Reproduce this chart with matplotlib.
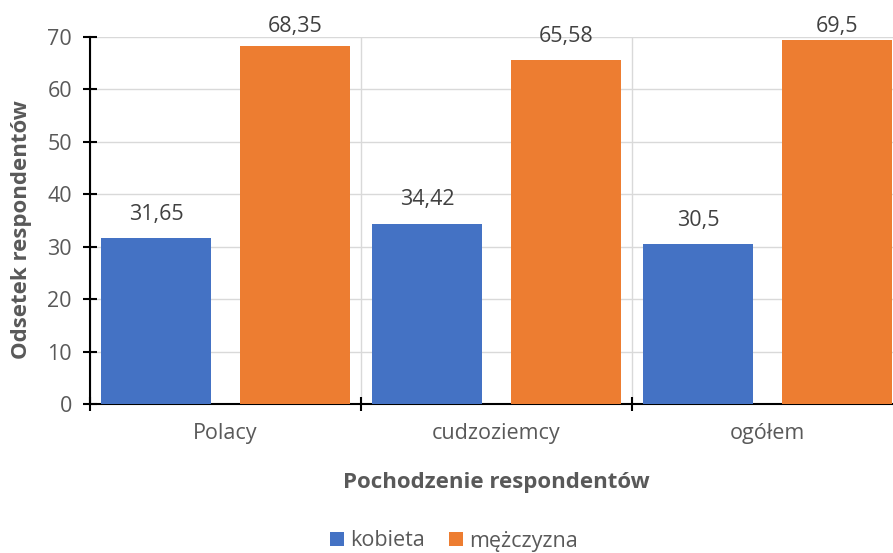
import numpy as np
import matplotlib.pyplot as plt

categories = ["Polacy", "cudzoziemcy", "ogółem"]
kobieta = [31.65, 34.42, 30.5]
mezczyzna = [68.35, 65.58, 69.5]
kobieta_labels = ["31,65", "34,42", "30,5"]
mezczyzna_labels = ["68,35", "65,58", "69,5"]

plt.rcParams["font.family"] = ["Open Sans", "DejaVu Sans"]
gray = "#595959"
fs = 15.5

fig = plt.figure(figsize=(8.93, 5.53), dpi=100)
ax = fig.add_axes([90 / 893, 149 / 553, 813 / 893, 367 / 553])

x = np.arange(len(categories))
w = 0.405
off = 0.256
b1 = ax.bar(x - off, kobieta, w, color="#4472C4", label="kobieta", zorder=3)
b2 = ax.bar(x + off, mezczyzna, w, color="#ED7D31", label="mężczyzna", zorder=3)

# labels sit above bars but are kept inside the chart area (like Excel does)
for bars, labs in ((b1, kobieta_labels), (b2, mezczyzna_labels)):
    for b, t in zip(bars, labs):
        y = min(b.get_height() + 3.45, 70.9)
        ax.text(b.get_x() + b.get_width() / 2, y, t, ha="center", va="baseline",
                fontsize=fs, color="#404040", clip_on=False)

ax.set_xlim(-0.5, 2.5)
ax.set_ylim(0, 70)
ax.set_yticks(range(0, 71, 10))
ax.set_xticks(x)
ax.set_xticklabels(categories)
ax.set_xticks([-0.5, 0.5, 1.5, 2.5], minor=True)
ax.grid(axis="y", color="#d9d9d9", lw=1, zorder=0)
ax.grid(axis="x", which="minor", color="#d9d9d9", lw=1, zorder=0)
ax.tick_params(axis="x", which="major", length=0, pad=14, labelsize=fs, labelcolor=gray)
ax.tick_params(axis="x", which="minor", length=10, width=1.5, direction="inout", color="black")
ax.tick_params(axis="y", length=10, width=1.5, direction="inout", color="black",
               labelsize=fs, labelcolor=gray, pad=8)

for s in ("top", "right"):
    ax.spines[s].set_visible(False)
ax.spines["left"].set_linewidth(1.5)
ax.spines["bottom"].set_linewidth(1.5)

ax.set_ylabel("Odsetek respondentów", fontsize=16, fontweight="bold", color=gray,
              va="center")
ax.set_xlabel("Pochodzenie respondentów", fontsize=16, fontweight="bold", color=gray)
ax.yaxis.set_label_coords(-(90 - 22) / 813, (404 - 230) / 367)
ax.xaxis.set_label_coords((496 - 90) / 813, -(472 - 404) / 367)

fig.legend(loc="center", bbox_to_anchor=(454 / 893, 1 - 541 / 553), ncol=2, frameon=False,
           fontsize=fs, labelcolor=gray, handlelength=0.65, handleheight=0.65,
           handletextpad=0.3, columnspacing=1.1)

fig.savefig("out.png", dpi=100)
